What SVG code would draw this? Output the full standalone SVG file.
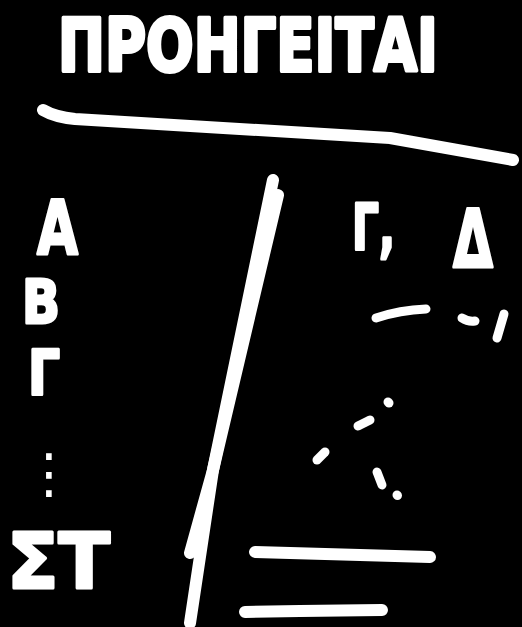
<svg xmlns="http://www.w3.org/2000/svg" width="522" height="627" viewBox="0 0 522 627">
<style>
.t{font-family:"DejaVu Sans","Liberation Sans",sans-serif;font-weight:bold;fill:#fff;stroke:#fff;stroke-width:3;stroke-linejoin:round}
.s{fill:none;stroke:#fff;stroke-linecap:round;stroke-linejoin:round}
.w12{stroke-width:12}
.w9{stroke-width:9}
</style>
<rect width="522" height="627" fill="#000"/>
<g id="title" transform="translate(0,71) scale(1,1.3)">
<text class="t" x="58" y="0" font-size="56" stroke-width="4" textLength="380" lengthAdjust="spacingAndGlyphs">ΠΡΟΗΓΕΙΤΑΙ</text>
</g>
<g id="left-list">
<text class="t" x="37" y="254" font-size="74" textLength="41" lengthAdjust="spacingAndGlyphs">Α</text>
<text class="t" x="22" y="323" font-size="60" stroke-width="4" textLength="38" lengthAdjust="spacingAndGlyphs">Β</text>
<text class="t" x="28" y="395" font-size="62" stroke-width="4" textLength="32" lengthAdjust="spacingAndGlyphs">Γ</text>
<text x="22" y="492" font-size="54" fill="#fff" font-family="DejaVu Sans, sans-serif">⋮</text>
<text class="t" x="7" y="588" font-size="76" textLength="103" lengthAdjust="spacingAndGlyphs">ΣΤ</text>
</g>
<g id="right-list">
<text class="t" x="352" y="250" font-size="64" textLength="43" lengthAdjust="spacingAndGlyphs">Γ,</text>
<text class="t" x="453" y="267" font-size="80" textLength="40" lengthAdjust="spacingAndGlyphs">Δ</text>
</g>
<g id="connectors">
<path class="s w12" d="M43,110 Q55,117 75,119 L390,138 L513,160"/>
<path class="s w12" d="M273,180 L213,470 L190,553"/>
<path class="s w12" d="M278,195 L213,470 L190,623"/>
<path class="s w12" d="M255,552 L430,557"/>
<path class="s w12" d="M245,612 L300,611 L382,610"/>
<g id="marks">
<path class="s w9" d="M376,318 Q400,310 426,309"/>
<path class="s w9" d="M462,318 Q468,322 475,321"/>
<path class="s w9" d="M504,314 L497,338"/>
<path class="s w9" d="M388,402 L389,403"/>
<path class="s w9" d="M358,426 L370,420"/>
<path class="s w9" d="M325,452 L317,460"/>
<path class="s w9" d="M377,472 L382,485"/>
<path class="s w9" d="M397,495 L397.5,495.5"/>
</g>
</g>
</svg>
